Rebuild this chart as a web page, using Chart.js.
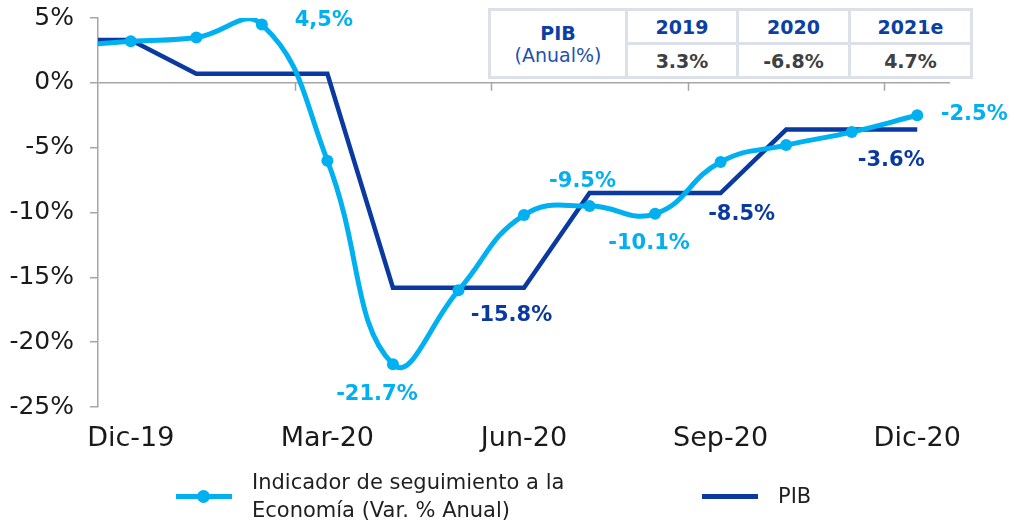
<!DOCTYPE html>
<html>
<head>
<meta charset="utf-8">
<script src="https://cdn.jsdelivr.net/npm/chart.js@4.4.1/dist/chart.umd.min.js"></script>
<style>
  html, body { margin: 0; padding: 0; background: #fff; }
  #wrap { position: relative; width: 1014px; height: 523px; font-family: "DejaVu Sans", sans-serif; }
  #chart { position: absolute; left: 0; top: 0; }
  #pib-table {
    position: absolute; left: 488px; top: 8px; width: 482px; height: 71px;
    border-collapse: collapse; background: #fff; table-layout: fixed;
  }
  #pib-table td { border: 3px solid #dce1e9; text-align: center; padding: 0; }
  #pib-table .head { color: #0b3fa3; font-weight: bold; font-size: 19px; }
  #pib-table .val { color: #404040; font-weight: bold; font-size: 19px; }
  #pib-table .sub { color: #1f4fb0; font-size: 19px; font-weight: normal; }
  .legend { position: absolute; top: 468px; display: flex; align-items: center; color: #1f1f1f; font-size: 21px; line-height: 28px; }
  .swatch { position: relative; width: 56px; height: 5px; margin-right: 20px; }
  .swatch .dot { position: absolute; left: 21px; top: -4px; width: 13px; height: 13px; border-radius: 50%; }
</style>
</head>
<body>
<div id="wrap">
  <canvas id="chart" width="1014" height="523"></canvas>
  <table id="pib-table">
    <colgroup><col style="width:137px"><col style="width:111px"><col style="width:112px"><col style="width:122px"></colgroup>
    <tr>
      <td rowspan="2" class="head">PIB<br><span class="sub">(Anual%)</span></td>
      <td class="head" id="y0"></td><td class="head" id="y1"></td><td class="head" id="y2"></td>
    </tr>
    <tr>
      <td class="val" id="v0"></td><td class="val" id="v1"></td><td class="val" id="v2"></td>
    </tr>
  </table>
  <div class="legend" style="left:176px;">
    <div class="swatch" style="background:#00b0f0"><div class="dot" style="background:#00b0f0"></div></div>
    <div>Indicador de seguimiento a la<br>Economía (Var. % Anual)</div>
  </div>
  <div class="legend" style="left:702px; top:482px;">
    <div class="swatch" style="background:#0a3aa0"></div>
    <div>PIB</div>
  </div>
</div>
<script>
// months, first one only feeds the line stub left of Dic-19
const MONTHS = ["Nov-19", "Dic-19", "Ene-20", "Feb-20", "Mar-20", "Abr-20", "May-20",
  "Jun-20", "Jul-20", "Ago-20", "Sep-20", "Oct-20", "Nov-20", "Dic-20"];
const INDICADOR = [2.8, 3.2, 3.5, 4.5, -6.0, -21.7, -16.0, -10.2, -9.5, -10.1, -6.1, -4.8, -3.8, -2.5];
const PIB = [3.3, 3.3, 0.7, 0.7, 0.7, -15.8, -15.8, -15.8, -8.5, -8.5, -8.5, -3.6, -3.6, -3.6];
const X_TICKS = [0, 3, 6, 9, 12];
const Y_TICKS = [5, 0, -5, -10, -15, -20, -25];
const PIB_YEARS = ["2019", "2020", "2021e"];
const PIB_ANUAL = ["3.3%", "-6.8%", "4.7%"];

const LIGHT = "#00b0f0";
const DARK = "#0a3aa0";
const AXIS = "#a6a6a6";

// data labels: dataset, month index, text, pixel offset from the point
const LABELS = [
  { ds: 0, i: 3, text: "4,5%", dx: 62, dy: -4 },
  { ds: 0, i: 5, text: "-21.7%", dx: -16, dy: 30 },
  { ds: 1, i: 6, text: "-15.8%", dx: 53, dy: 28 },
  { ds: 0, i: 8, text: "-9.5%", dx: -7, dy: -24 },
  { ds: 0, i: 9, text: "-10.1%", dx: -6, dy: 30 },
  { ds: 1, i: 10, text: "-8.5%", dx: 21, dy: 21 },
  { ds: 1, i: 13, text: "-3.6%", dx: -26, dy: 31 },
  { ds: 0, i: 13, text: "-2.5%", dx: 57, dy: -1 },
];

PIB_YEARS.forEach((y, k) => { document.getElementById("y" + k).textContent = y; });
PIB_ANUAL.forEach((v, k) => { document.getElementById("v" + k).textContent = v; });

const toPoints = (arr) => arr.map((v, k) => ({ x: k - 1, y: v }));

const quarterTicks = {
  id: "quarterTicks",
  beforeDatasetsDraw(chart) {
    const { ctx, scales } = chart;
    const y0 = scales.y.getPixelForValue(0);
    ctx.save();
    ctx.strokeStyle = AXIS;
    ctx.lineWidth = 1.5;
    [2.5, 5.5, 8.5, 11.5].forEach((v) => {
      const px = Math.round(scales.x.getPixelForValue(v)) + 0.5;
      ctx.beginPath();
      ctx.moveTo(px, y0);
      ctx.lineTo(px, y0 + 8);
      ctx.stroke();
    });
    ctx.restore();
  },
};

const dataLabels = {
  id: "dataLabels",
  afterDatasetsDraw(chart) {
    const { ctx } = chart;
    ctx.save();
    ctx.font = "bold 21px 'DejaVu Sans'";
    ctx.textAlign = "center";
    ctx.textBaseline = "middle";
    LABELS.forEach((l) => {
      const el = chart.getDatasetMeta(l.ds).data[l.i];
      ctx.fillStyle = l.ds === 0 ? LIGHT : DARK;
      ctx.fillText(l.text, el.x + l.dx, el.y + l.dy);
    });
    ctx.restore();
  },
};

new Chart(document.getElementById("chart"), {
  type: "line",
  data: {
    datasets: [
      {
        label: "Indicador de seguimiento a la Economía (Var. % Anual)",
        data: toPoints(INDICADOR),
        borderColor: LIGHT,
        backgroundColor: LIGHT,
        borderWidth: 5,
        pointRadius: 6,
        pointBorderWidth: 0,
        tension: 0.45,
        capBezierPoints: false,
      },
      {
        label: "PIB",
        data: toPoints(PIB),
        borderColor: DARK,
        backgroundColor: DARK,
        borderWidth: 4.5,
        pointRadius: 0,
        tension: 0,
      },
    ],
  },
  options: {
    responsive: false,
    animation: false,
    events: [],
    layout: { padding: { top: 18, right: 64, left: 0, bottom: 0 } },
    plugins: { legend: { display: false }, tooltip: { enabled: false } },
    scales: {
      x: {
        type: "linear",
        min: -0.5,
        max: 12.5,
        afterBuildTicks: (s) => { s.ticks = X_TICKS.map((v) => ({ value: v })); },
        afterFit: (s) => { s.height = 116; s.paddingLeft = 0; s.paddingRight = 0; },
        grid: { display: false, drawTicks: false },
        border: { display: false },
        ticks: {
          padding: 16,
          color: "#1a1a1a",
          font: { family: "DejaVu Sans", size: 27 },
          maxRotation: 0,
          callback: (v) => MONTHS[v + 1],
        },
      },
      y: {
        min: -25,
        max: 5,
        afterBuildTicks: (s) => { s.ticks = Y_TICKS.map((v) => ({ value: v })); },
        afterFit: (s) => { s.width = 98; s.paddingTop = 0; s.paddingBottom = 0; },
        grid: {
          color: (c) => (c.tick && c.tick.value === 0 ? AXIS : "rgba(0,0,0,0)"),
          lineWidth: 1.5,
          tickColor: AXIS,
          tickLength: 8,
        },
        border: { display: true, color: AXIS, width: 1.5 },
        ticks: {
          padding: 16,
          color: "#1a1a1a",
          font: { family: "DejaVu Sans", size: 25 },
          callback: (v) => v + "%",
        },
      },
    },
  },
  plugins: [quarterTicks, dataLabels],
});
</script>
</body>
</html>
